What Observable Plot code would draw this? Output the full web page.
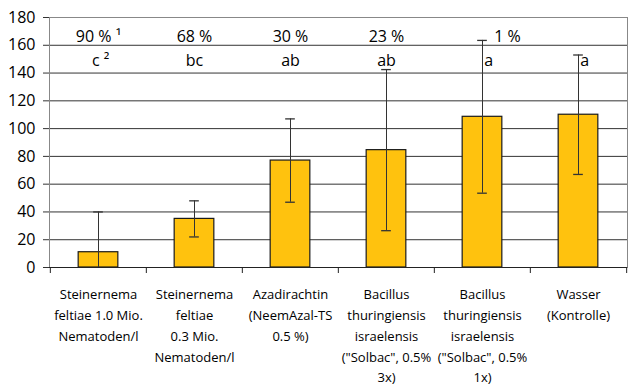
<!DOCTYPE html>
<html>
<head>
<meta charset="utf-8">
<script src="https://cdn.jsdelivr.net/npm/d3@7"></script>
<script src="https://cdn.jsdelivr.net/npm/@observablehq/plot@0.6"></script>
<style>
  html, body { margin: 0; padding: 0; background: #fff; }
  #chart svg { display: block; }
</style>
</head>
<body>
<div id="chart"></div>
<script>
const categories = [
  "Steinernema\nfeltiae 1.0 Mio.\nNematoden/l",
  "Steinernema\nfeltiae\n0.3 Mio.\nNematoden/l",
  "Azadirachtin\n(NeemAzal-TS\n0.5 %)",
  "Bacillus\nthuringiensis\nisraelensis\n(\"Solbac\", 0.5%\n3x)",
  "Bacillus\nthuringiensis\nisraelensis\n(\"Solbac\", 0.5%\n1x)",
  "Wasser\n(Kontrolle)"
];
const means = [11, 35, 77, 84.5, 108.5, 110];
const errors = [29, 13, 30, 58, 55, 43];
const efficacy = ["90 % \u00b9", "68 %", "30 %", "23 %", "\u00a0\u00a0\u00a0\u00a0\u00a0\u00a0\u00a0\u00a0\u00a0\u00a0\u00a0\u00a01 %", ""];
const letters = ["\u00a0c \u00b2", "bc", "ab", "ab", "\u00a0\u00a0\u00a0a", "\u00a0\u00a0\u00a0a"];
const yTicks = [0, 20, 40, 60, 80, 100, 120, 140, 160, 180];

const rows = categories.map((c, i) => ({
  cat: c,
  mean: means[i],
  lo: Math.max(0, means[i] - errors[i]),
  hi: means[i] + errors[i],
  eff: efficacy[i],
  letter: letters[i]
}));

const W = 641, H = 392, mL = 49, mR = 14, mT = 17, mB = 125;
const step = (W - mL - mR) / categories.length;
const barW = 40, capW = 10;
const font = "'Open Sans', sans-serif";

const chart = Plot.plot({
  width: W,
  height: H,
  marginLeft: mL,
  marginRight: mR,
  marginTop: mT,
  marginBottom: mB,
  style: { fontFamily: font, background: "#fff", color: "#000" },
  x: { domain: categories, padding: 0, axis: null },
  y: { domain: [0, 180], axis: null },
  marks: [
    Plot.gridY(yTicks, { stroke: "#333", strokeOpacity: 1, strokeWidth: 1 }),
    Plot.frame({ stroke: "#888" }),
    Plot.barY(rows, {
      x: "cat", y: "mean",
      insetLeft: (step - barW) / 2, insetRight: (step - barW) / 2,
      fill: "#FFC20E", stroke: "#1a1a1a", strokeWidth: 1.2
    }),
    Plot.ruleX(rows, { x: "cat", y1: "lo", y2: "hi", stroke: "#333", strokeWidth: 1 }),
    Plot.tickY(rows, {
      x: "cat", y: "hi", stroke: "#333", strokeWidth: 1.3,
      insetLeft: (step - capW) / 2, insetRight: (step - capW) / 2
    }),
    Plot.tickY(rows.filter(d => d.lo > 0), {
      x: "cat", y: "lo", stroke: "#333", strokeWidth: 1.3,
      insetLeft: (step - capW) / 2, insetRight: (step - capW) / 2
    }),
    Plot.ruleY([0], { stroke: "#222" }),
    Plot.ruleX([0], { x: () => mL, stroke: "#333" }),
    Plot.axisY({
      ticks: yTicks, tickSize: 6, tickPadding: 8, fontSize: 16,
      label: null, stroke: "#333", fill: "#000"
    }),
    Plot.ruleX(categories, {
      x: d => d, y1: 0, y2: 0, insetBottom: -6, dx: -step / 2, stroke: "#222"
    }),
    Plot.ruleX([categories[categories.length - 1]], {
      x: d => d, y1: 0, y2: 0, insetBottom: -6, dx: step / 2, stroke: "#222"
    }),
    Plot.text(categories, {
      x: d => d, frameAnchor: "bottom", lineAnchor: "top", dy: 17,
      lineHeight: 1.6, fontSize: 13, fill: "#000", text: d => d
    }),
    Plot.text(rows, {
      x: "cat", text: "eff", frameAnchor: "top", lineAnchor: "bottom", dy: 24,
      fontSize: 16, fill: "#000"
    }),
    Plot.text(rows, {
      x: "cat", text: "letter", frameAnchor: "top", lineAnchor: "bottom", dy: 48,
      fontSize: 16, fill: "#000"
    })
  ]
});

document.getElementById("chart").append(chart);
</script>
</body>
</html>
